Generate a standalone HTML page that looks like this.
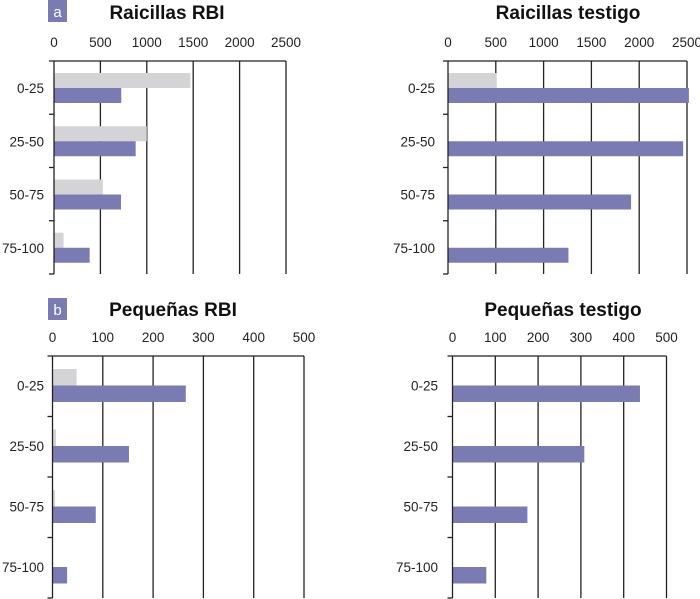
<!DOCTYPE html>
<html><head><meta charset="utf-8"><style>
body{margin:0;background:#fff}
svg{display:block;font-family:"Liberation Sans",Arial,sans-serif}
</style></head><body>
<svg id="c" width="700" height="599" viewBox="0 0 700 599"></svg>
<script>
const categories=["0-25","25-50","50-75","75-100"];
const raiRbiGray=[1470,1000,527,103];
const raiRbiPurple=[725,880,722,384];
const raiTestGray=[510,0,0,0];
const raiTestPurple=[2520,2460,1915,1260];
const peqRbiGray=[48,7,5,0];
const peqRbiPurple=[265,152,86,29];
const peqTestGray=[0,0,0,0];
const peqTestPurple=[438,308,175,79];
const ticksA=[0,500,1000,1500,2000,2500];
const ticksB=[0,100,200,300,400,500];

const NS="http://www.w3.org/2000/svg";
const svg=document.getElementById('c');
function mk(tag,attrs,parent){const e=document.createElementNS(NS,tag);for(const k in attrs)e.setAttribute(k,attrs[k]);(parent||svg).appendChild(e);return e;}

function panel(p){
  const g=mk('g',{});
  
  
  const max=p.ticks[p.ticks.length-1];
  const xs=v=>p.x0+(v/max)*(p.x1-p.x0);
  const band=(p.yb-p.yt)/categories.length;
  const t=mk('text',{x:p.tx,y:p.ty,'text-anchor':'middle','font-size':19,'font-weight':'bold',fill:'#111'},g);
  t.textContent=p.title;
  
  
  if(p.badge){
    const b=mk('rect',{x:48,y:p.badgeY,width:19,height:22,fill:'#7b7bb3'},g);
    
    
    const bt=mk('text',{x:57.5,y:p.badgeY+17,'text-anchor':'middle','font-size':15,fill:'#fff'},g);
    bt.textContent=p.badge;
    
    
  }
  p.ticks.forEach(v=>{
    const x=xs(v);
    if(v>0){const l=mk('line',{x1:x,x2:x,y1:p.yt,y2:p.yb,stroke:'#222','stroke-width':1.3},g);
      
      }
    const tl=mk('text',{x:x,y:p.yt-14,'text-anchor':'middle','font-size':13.5,fill:'#222'},g);
    tl.textContent=v;
    
    
  });
  categories.forEach((c,i)=>{
    const top=p.yt+i*band;
    if(p.gray[i]>0){const r=mk('rect',{x:p.x0,y:top+p.gOff,width:xs(p.gray[i])-p.x0,height:p.bh,fill:'#d4d4d6'},g);
      
      }
    const r2=mk('rect',{x:p.x0,y:top+p.gOff+p.bh,width:xs(p.purple[i])-p.x0,height:p.bh,fill:'#7b7bb3'},g);
    
    
    const cl=mk('text',{x:p.lx,y:top+p.gOff+p.bh+5,'text-anchor':'end','font-size':13.5,fill:'#222'},g);
    cl.textContent=c;
    
    
    const tk=mk('line',{x1:p.x0-5,x2:p.x0,y1:top+band,y2:top+band,stroke:'#222','stroke-width':1.3},g);
    
    
  });
  const ax=mk('line',{x1:p.x0-5,x2:p.x1,y1:p.yt,y2:p.yt,stroke:'#222','stroke-width':1.3},g);
  
  
  const ay=mk('line',{x1:p.x0,x2:p.x0,y1:p.yt,y2:p.yb,stroke:'#222','stroke-width':1.3},g);
  
  
}
panel({name:'raicillas-rbi-chart',title:'Raicillas RBI',tx:167,ty:19,badge:'a',badgeY:0,x0:54,x1:286,yt:61,yb:274,ticks:ticksA,gray:raiRbiGray,purple:raiRbiPurple,gOff:12,bh:15,lx:44});
panel({name:'raicillas-testigo-chart',title:'Raicillas testigo',tx:568,ty:19,x0:448,x1:687,yt:61,yb:274,ticks:ticksA,gray:raiTestGray,purple:raiTestPurple,gOff:12,bh:15,lx:435});
panel({name:'pequenas-rbi-chart',title:'Pequeñas RBI',tx:173,ty:316,badge:'b',badgeY:298,x0:52.5,x1:304,yt:356,yb:598,ticks:ticksB,gray:peqRbiGray,purple:peqRbiPurple,gOff:13,bh:16.5,lx:44});
panel({name:'pequenas-testigo-chart',title:'Pequeñas testigo',tx:563,ty:316,x0:452.5,x1:666.5,yt:356,yb:598,ticks:ticksB,gray:peqTestGray,purple:peqTestPurple,gOff:13,bh:16.5,lx:438});
</script>
</body></html>
